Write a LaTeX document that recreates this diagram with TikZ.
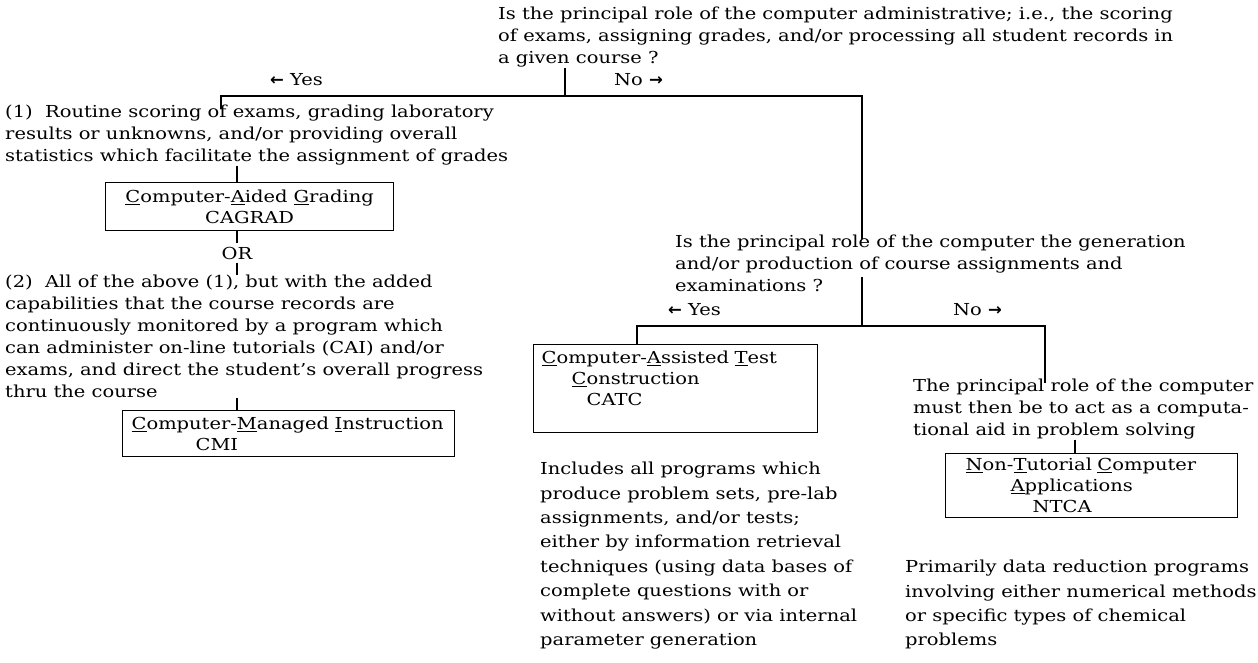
\documentclass[tikz,border=0pt]{standalone}
\usepackage{fontspec}
\setmainfont{DejaVu Serif}[FakeStretch=1.18]
\newfontfamily\arrowfont{DejaVu Sans}
\newcommand{\ulet}[1]{\underline{#1}}
\newcommand{\larr}{{\arrowfont\bfseries ←}}
\newcommand{\rarr}{{\arrowfont\bfseries →}}

\begin{document}
\begin{tikzpicture}[x=1pt,y=-1pt]
  \tikzset{txt/.style = {anchor=north west, inner sep=0pt, align=left, font=\fontsize{16.5}{22}\selectfont}}
  \tikzset{lowtxt/.style = {txt, font=\fontsize{16.5}{24.4}\selectfont}}
  \tikzset{lbl/.style = {inner sep=4pt, font=\fontsize{16.5}{22}\selectfont}}
  \tikzset{box/.style = {draw, line width=1.3pt, anchor=north west, inner ysep=0pt, align=left, font=\fontsize{16.5}{21}\selectfont}}
  \tikzset{wire/.style = {line width=1.3pt}}

\useasboundingbox (0,0) rectangle (1258,662);

% first question
\node[txt] (q1) at (498,7) {Is the principal role of the computer administrative; i.e., the scoring\\of exams, assigning grades, and/or processing all student records in\\a given course ?};
\node[txt] (yes1) at (270,73) {\larr\ Yes};
\node[txt] (no1) at (614,73) {No \rarr};
\coordinate (h1l) at (221,96);
\coordinate (h1m) at (565,96);
\coordinate (h1r) at (862,96);

% left branch
\node[txt] (p1) at (5,105) {(1)\ \ Routine scoring of exams, grading laboratory\\results or unknowns, and/or providing overall\\statistics which facilitate the assignment of grades};
\node[box, minimum width=288pt, minimum height=48pt, align=center] (cagrad) at (105,182) {\ulet{C}omputer-\ulet{A}ided \ulet{G}rading\\CAGRAD};
\node[lbl] (or) at (237,253) {OR};
\node[txt] (p2) at (5,275) {(2)\ \ All of the above (1), but with the added\\capabilities that the course records are\\continuously monitored by a program which\\can administer on-line tutorials (CAI) and/or\\exams, and direct the student's overall progress\\thru the course};
\node[box, text width=314pt, minimum height=46pt, inner xsep=9pt] (cmi) at (122,410) {\ulet{C}omputer-\ulet{M}anaged \ulet{I}nstruction\\\hspace*{64pt}CMI};
\coordinate (s1) at (237,0);

% second question
\node[txt] (q2) at (675,235) {Is the principal role of the computer the generation\\and/or production of course assignments and\\examinations ?};
\coordinate (q2s) at (862,277);
\node[txt] (yes2) at (668,303) {\larr\ Yes};
\node[txt] (no2) at (953,303) {No \rarr};
\coordinate (h2l) at (637,326);
\coordinate (h2m) at (862,326);
\coordinate (h2r) at (1045,326);
\node[box, text width=268pt, minimum height=88pt, inner xsep=8pt] (catc) at (533,344) {\ulet{C}omputer-\ulet{A}ssisted \ulet{T}est\\\hspace*{30pt}\ulet{C}onstruction\\\hspace*{45pt}CATC\\\mbox{}};
\node[lowtxt] (incl) at (540,462) {Includes all programs which\\produce problem sets, pre-lab\\assignments, and/or tests;\\either by information retrieval\\techniques (using data bases of\\complete questions with or\\without answers) or via internal\\parameter generation};

% right branch
\node[txt] (p3) at (913,379) {The principal role of the computer\\must then be to act as a computa-\\tional aid in problem solving};
\node[box, text width=252pt, minimum height=64pt, inner xsep=20pt] (ntca) at (945,453) {\ulet{N}on-\ulet{T}utorial \ulet{C}omputer\\\hspace*{45pt}\ulet{A}pplications\\\hspace*{67pt}NTCA};
\coordinate (s3) at (1075,0);
\node[lowtxt] (prim) at (905,560) {Primarily data reduction programs\\involving either numerical methods\\or specific types of chemical\\problems};

% connectors
\draw[wire] (h1m |- q1.south) -- (h1m);
\draw[wire] ([yshift=-4pt]h1l |- p1.north) -- (h1l) -- (h1r) -- ([yshift=-4pt]h1r |- q2.north);
\draw[wire] (s1 |- p1.south) -- (s1 |- cagrad.north);
\draw[wire] (s1 |- cagrad.south) -- (or.north);
\draw[wire] (or.south) -- (s1 |- p2.north);
\draw[wire] (s1 |- p2.south) -- (s1 |- cmi.north);
\draw[wire] (q2s) -- (h2m);
\draw[wire] (h2l |- catc.north) -- (h2l) -- (h2r) -- ([yshift=-4pt]h2r |- p3.north);
\draw[wire] (s3 |- p3.south) -- (s3 |- ntca.north);

\end{tikzpicture}
\end{document}
